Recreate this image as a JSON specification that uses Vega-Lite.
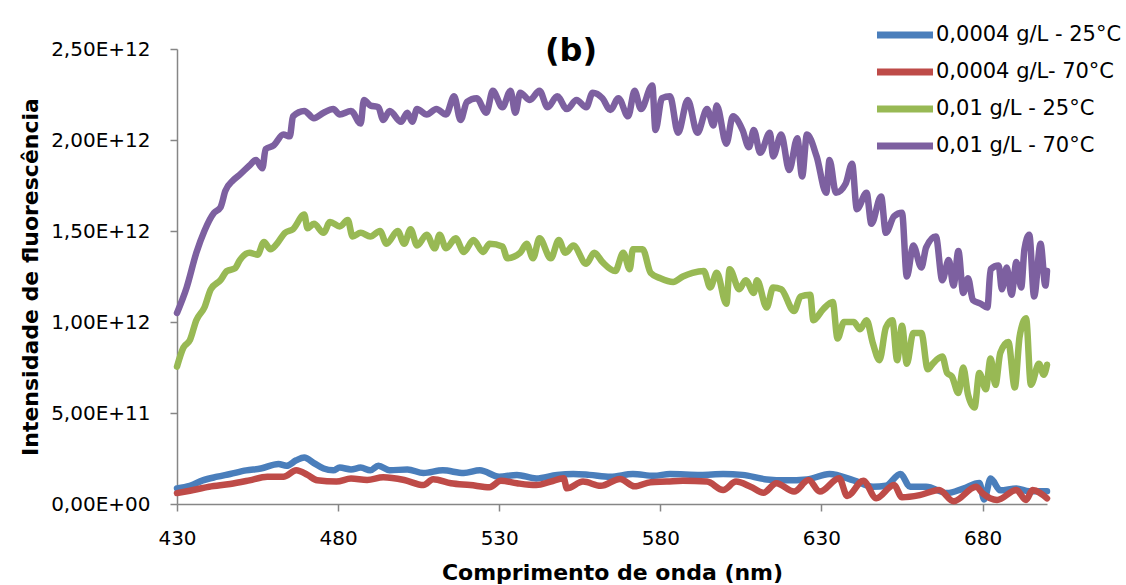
{
  "$schema": "https://vega.github.io/schema/vega-lite/v6.json",
  "width": 870,
  "height": 455,
  "autosize": {"type": "none"},
  "padding": {"left": 177, "top": 49, "right": 79, "bottom": 81},
  "background": "white",
  "config": {"view": {"stroke": null}},
  "title": {"text": "(b)", "font": "DejaVu Sans", "fontSize": 32, "fontWeight": "bold", "color": "black", "anchor": "middle", "frame": "group", "dx": -41, "dy": 60, "offset": -13, "baseline": "alphabetic"},
  "data": {"values": [
    {"w":430,"v":0.086e12,"s":"0,0004 g/L - 25°C"},
    {"w":434,"v":0.10e12,"s":"0,0004 g/L - 25°C"},
    {"w":438,"v":0.13e12,"s":"0,0004 g/L - 25°C"},
    {"w":442.5,"v":0.15e12,"s":"0,0004 g/L - 25°C"},
    {"w":446.5,"v":0.165e12,"s":"0,0004 g/L - 25°C"},
    {"w":451.5,"v":0.185e12,"s":"0,0004 g/L - 25°C"},
    {"w":456,"v":0.195e12,"s":"0,0004 g/L - 25°C"},
    {"w":461.5,"v":0.22e12,"s":"0,0004 g/L - 25°C"},
    {"w":464,"v":0.21e12,"s":"0,0004 g/L - 25°C"},
    {"w":467,"v":0.24e12,"s":"0,0004 g/L - 25°C"},
    {"w":469.5,"v":0.255e12,"s":"0,0004 g/L - 25°C"},
    {"w":472.5,"v":0.225e12,"s":"0,0004 g/L - 25°C"},
    {"w":475.5,"v":0.195e12,"s":"0,0004 g/L - 25°C"},
    {"w":478.5,"v":0.185e12,"s":"0,0004 g/L - 25°C"},
    {"w":480.5,"v":0.20e12,"s":"0,0004 g/L - 25°C"},
    {"w":484,"v":0.19e12,"s":"0,0004 g/L - 25°C"},
    {"w":487,"v":0.20e12,"s":"0,0004 g/L - 25°C"},
    {"w":490,"v":0.185e12,"s":"0,0004 g/L - 25°C"},
    {"w":492.5,"v":0.21e12,"s":"0,0004 g/L - 25°C"},
    {"w":496,"v":0.185e12,"s":"0,0004 g/L - 25°C"},
    {"w":501.5,"v":0.19e12,"s":"0,0004 g/L - 25°C"},
    {"w":506.5,"v":0.17e12,"s":"0,0004 g/L - 25°C"},
    {"w":512.5,"v":0.185e12,"s":"0,0004 g/L - 25°C"},
    {"w":519,"v":0.17e12,"s":"0,0004 g/L - 25°C"},
    {"w":524,"v":0.185e12,"s":"0,0004 g/L - 25°C"},
    {"w":530,"v":0.15e12,"s":"0,0004 g/L - 25°C"},
    {"w":535.5,"v":0.16e12,"s":"0,0004 g/L - 25°C"},
    {"w":541.5,"v":0.14e12,"s":"0,0004 g/L - 25°C"},
    {"w":548,"v":0.16e12,"s":"0,0004 g/L - 25°C"},
    {"w":553,"v":0.165e12,"s":"0,0004 g/L - 25°C"},
    {"w":558,"v":0.16e12,"s":"0,0004 g/L - 25°C"},
    {"w":564.5,"v":0.15e12,"s":"0,0004 g/L - 25°C"},
    {"w":571.5,"v":0.165e12,"s":"0,0004 g/L - 25°C"},
    {"w":578,"v":0.155e12,"s":"0,0004 g/L - 25°C"},
    {"w":583,"v":0.165e12,"s":"0,0004 g/L - 25°C"},
    {"w":592.5,"v":0.16e12,"s":"0,0004 g/L - 25°C"},
    {"w":599.5,"v":0.165e12,"s":"0,0004 g/L - 25°C"},
    {"w":605.5,"v":0.16e12,"s":"0,0004 g/L - 25°C"},
    {"w":613,"v":0.135e12,"s":"0,0004 g/L - 25°C"},
    {"w":619,"v":0.13e12,"s":"0,0004 g/L - 25°C"},
    {"w":625.5,"v":0.135e12,"s":"0,0004 g/L - 25°C"},
    {"w":632.5,"v":0.165e12,"s":"0,0004 g/L - 25°C"},
    {"w":640,"v":0.13e12,"s":"0,0004 g/L - 25°C"},
    {"w":646,"v":0.095e12,"s":"0,0004 g/L - 25°C"},
    {"w":650,"v":0.10e12,"s":"0,0004 g/L - 25°C"},
    {"w":654.5,"v":0.165e12,"s":"0,0004 g/L - 25°C"},
    {"w":657.5,"v":0.095e12,"s":"0,0004 g/L - 25°C"},
    {"w":662.5,"v":0.095e12,"s":"0,0004 g/L - 25°C"},
    {"w":669,"v":0.06e12,"s":"0,0004 g/L - 25°C"},
    {"w":674,"v":0.085e12,"s":"0,0004 g/L - 25°C"},
    {"w":679,"v":0.115e12,"s":"0,0004 g/L - 25°C"},
    {"w":680.5,"v":0.025e12,"s":"0,0004 g/L - 25°C"},
    {"w":682.5,"v":0.14e12,"s":"0,0004 g/L - 25°C"},
    {"w":685.5,"v":0.075e12,"s":"0,0004 g/L - 25°C"},
    {"w":690.5,"v":0.085e12,"s":"0,0004 g/L - 25°C"},
    {"w":694.5,"v":0.07e12,"s":"0,0004 g/L - 25°C"},
    {"w":700,"v":0.07e12,"s":"0,0004 g/L - 25°C"},

    {"w":430,"v":0.06e12,"s":"0,0004 g/L- 70°C"},
    {"w":434,"v":0.073e12,"s":"0,0004 g/L- 70°C"},
    {"w":440,"v":0.095e12,"s":"0,0004 g/L- 70°C"},
    {"w":446.5,"v":0.11e12,"s":"0,0004 g/L- 70°C"},
    {"w":452.5,"v":0.13e12,"s":"0,0004 g/L- 70°C"},
    {"w":458,"v":0.15e12,"s":"0,0004 g/L- 70°C"},
    {"w":463,"v":0.15e12,"s":"0,0004 g/L- 70°C"},
    {"w":467,"v":0.185e12,"s":"0,0004 g/L- 70°C"},
    {"w":470.5,"v":0.16e12,"s":"0,0004 g/L- 70°C"},
    {"w":473.5,"v":0.13e12,"s":"0,0004 g/L- 70°C"},
    {"w":479.5,"v":0.123e12,"s":"0,0004 g/L- 70°C"},
    {"w":484,"v":0.14e12,"s":"0,0004 g/L- 70°C"},
    {"w":489,"v":0.132e12,"s":"0,0004 g/L- 70°C"},
    {"w":494,"v":0.147e12,"s":"0,0004 g/L- 70°C"},
    {"w":500.5,"v":0.132e12,"s":"0,0004 g/L- 70°C"},
    {"w":506.5,"v":0.104e12,"s":"0,0004 g/L- 70°C"},
    {"w":509.5,"v":0.136e12,"s":"0,0004 g/L- 70°C"},
    {"w":515,"v":0.114e12,"s":"0,0004 g/L- 70°C"},
    {"w":521,"v":0.104e12,"s":"0,0004 g/L- 70°C"},
    {"w":527,"v":0.092e12,"s":"0,0004 g/L- 70°C"},
    {"w":530.5,"v":0.128e12,"s":"0,0004 g/L- 70°C"},
    {"w":535.5,"v":0.114e12,"s":"0,0004 g/L- 70°C"},
    {"w":541.5,"v":0.104e12,"s":"0,0004 g/L- 70°C"},
    {"w":546,"v":0.123e12,"s":"0,0004 g/L- 70°C"},
    {"w":550,"v":0.141e12,"s":"0,0004 g/L- 70°C"},
    {"w":551,"v":0.086e12,"s":"0,0004 g/L- 70°C"},
    {"w":556,"v":0.123e12,"s":"0,0004 g/L- 70°C"},
    {"w":561.5,"v":0.10e12,"s":"0,0004 g/L- 70°C"},
    {"w":567.5,"v":0.138e12,"s":"0,0004 g/L- 70°C"},
    {"w":572,"v":0.097e12,"s":"0,0004 g/L- 70°C"},
    {"w":577,"v":0.12e12,"s":"0,0004 g/L- 70°C"},
    {"w":582,"v":0.123e12,"s":"0,0004 g/L- 70°C"},
    {"w":587,"v":0.128e12,"s":"0,0004 g/L- 70°C"},
    {"w":594.5,"v":0.123e12,"s":"0,0004 g/L- 70°C"},
    {"w":599.5,"v":0.077e12,"s":"0,0004 g/L- 70°C"},
    {"w":603.5,"v":0.123e12,"s":"0,0004 g/L- 70°C"},
    {"w":608,"v":0.095e12,"s":"0,0004 g/L- 70°C"},
    {"w":612,"v":0.062e12,"s":"0,0004 g/L- 70°C"},
    {"w":616,"v":0.114e12,"s":"0,0004 g/L- 70°C"},
    {"w":621.5,"v":0.068e12,"s":"0,0004 g/L- 70°C"},
    {"w":626,"v":0.132e12,"s":"0,0004 g/L- 70°C"},
    {"w":629.5,"v":0.068e12,"s":"0,0004 g/L- 70°C"},
    {"w":635.5,"v":0.141e12,"s":"0,0004 g/L- 70°C"},
    {"w":638,"v":0.044e12,"s":"0,0004 g/L- 70°C"},
    {"w":643,"v":0.128e12,"s":"0,0004 g/L- 70°C"},
    {"w":647,"v":0.031e12,"s":"0,0004 g/L- 70°C"},
    {"w":652.5,"v":0.104e12,"s":"0,0004 g/L- 70°C"},
    {"w":655,"v":0.037e12,"s":"0,0004 g/L- 70°C"},
    {"w":660.5,"v":0.049e12,"s":"0,0004 g/L- 70°C"},
    {"w":666.5,"v":0.077e12,"s":"0,0004 g/L- 70°C"},
    {"w":671,"v":0.015e12,"s":"0,0004 g/L- 70°C"},
    {"w":678,"v":0.095e12,"s":"0,0004 g/L- 70°C"},
    {"w":680,"v":0.059e12,"s":"0,0004 g/L- 70°C"},
    {"w":684.5,"v":0.022e12,"s":"0,0004 g/L- 70°C"},
    {"w":690.5,"v":0.077e12,"s":"0,0004 g/L- 70°C"},
    {"w":693.5,"v":0.022e12,"s":"0,0004 g/L- 70°C"},
    {"w":695.5,"v":0.077e12,"s":"0,0004 g/L- 70°C"},
    {"w":700,"v":0.031e12,"s":"0,0004 g/L- 70°C"},

    {"w":430,"v":0.755e12,"s":"0,01 g/L - 25°C"},
    {"w":432,"v":0.86e12,"s":"0,01 g/L - 25°C"},
    {"w":434,"v":0.90e12,"s":"0,01 g/L - 25°C"},
    {"w":436,"v":1.01e12,"s":"0,01 g/L - 25°C"},
    {"w":438.5,"v":1.08e12,"s":"0,01 g/L - 25°C"},
    {"w":440.5,"v":1.18e12,"s":"0,01 g/L - 25°C"},
    {"w":443.5,"v":1.23e12,"s":"0,01 g/L - 25°C"},
    {"w":445.5,"v":1.28e12,"s":"0,01 g/L - 25°C"},
    {"w":448,"v":1.295e12,"s":"0,01 g/L - 25°C"},
    {"w":449.5,"v":1.34e12,"s":"0,01 g/L - 25°C"},
    {"w":452.5,"v":1.38e12,"s":"0,01 g/L - 25°C"},
    {"w":455,"v":1.37e12,"s":"0,01 g/L - 25°C"},
    {"w":457,"v":1.44e12,"s":"0,01 g/L - 25°C"},
    {"w":459,"v":1.40e12,"s":"0,01 g/L - 25°C"},
    {"w":461,"v":1.43e12,"s":"0,01 g/L - 25°C"},
    {"w":463.5,"v":1.49e12,"s":"0,01 g/L - 25°C"},
    {"w":466,"v":1.51e12,"s":"0,01 g/L - 25°C"},
    {"w":469.5,"v":1.59e12,"s":"0,01 g/L - 25°C"},
    {"w":470.5,"v":1.515e12,"s":"0,01 g/L - 25°C"},
    {"w":472.5,"v":1.54e12,"s":"0,01 g/L - 25°C"},
    {"w":475.5,"v":1.49e12,"s":"0,01 g/L - 25°C"},
    {"w":477.5,"v":1.55e12,"s":"0,01 g/L - 25°C"},
    {"w":480.5,"v":1.525e12,"s":"0,01 g/L - 25°C"},
    {"w":483,"v":1.56e12,"s":"0,01 g/L - 25°C"},
    {"w":484.5,"v":1.47e12,"s":"0,01 g/L - 25°C"},
    {"w":487,"v":1.49e12,"s":"0,01 g/L - 25°C"},
    {"w":490,"v":1.47e12,"s":"0,01 g/L - 25°C"},
    {"w":493,"v":1.50e12,"s":"0,01 g/L - 25°C"},
    {"w":495,"v":1.43e12,"s":"0,01 g/L - 25°C"},
    {"w":498.5,"v":1.50e12,"s":"0,01 g/L - 25°C"},
    {"w":500.5,"v":1.43e12,"s":"0,01 g/L - 25°C"},
    {"w":502.5,"v":1.51e12,"s":"0,01 g/L - 25°C"},
    {"w":504.5,"v":1.42e12,"s":"0,01 g/L - 25°C"},
    {"w":507.5,"v":1.48e12,"s":"0,01 g/L - 25°C"},
    {"w":510,"v":1.405e12,"s":"0,01 g/L - 25°C"},
    {"w":511.5,"v":1.48e12,"s":"0,01 g/L - 25°C"},
    {"w":513.5,"v":1.405e12,"s":"0,01 g/L - 25°C"},
    {"w":516.5,"v":1.46e12,"s":"0,01 g/L - 25°C"},
    {"w":519,"v":1.385e12,"s":"0,01 g/L - 25°C"},
    {"w":522,"v":1.45e12,"s":"0,01 g/L - 25°C"},
    {"w":525,"v":1.385e12,"s":"0,01 g/L - 25°C"},
    {"w":527,"v":1.43e12,"s":"0,01 g/L - 25°C"},
    {"w":531,"v":1.415e12,"s":"0,01 g/L - 25°C"},
    {"w":532.5,"v":1.35e12,"s":"0,01 g/L - 25°C"},
    {"w":536.5,"v":1.38e12,"s":"0,01 g/L - 25°C"},
    {"w":538.5,"v":1.43e12,"s":"0,01 g/L - 25°C"},
    {"w":540.5,"v":1.35e12,"s":"0,01 g/L - 25°C"},
    {"w":542.5,"v":1.46e12,"s":"0,01 g/L - 25°C"},
    {"w":546,"v":1.35e12,"s":"0,01 g/L - 25°C"},
    {"w":548.5,"v":1.45e12,"s":"0,01 g/L - 25°C"},
    {"w":550.5,"v":1.38e12,"s":"0,01 g/L - 25°C"},
    {"w":553,"v":1.42e12,"s":"0,01 g/L - 25°C"},
    {"w":557,"v":1.32e12,"s":"0,01 g/L - 25°C"},
    {"w":559.5,"v":1.38e12,"s":"0,01 g/L - 25°C"},
    {"w":562,"v":1.33e12,"s":"0,01 g/L - 25°C"},
    {"w":566,"v":1.28e12,"s":"0,01 g/L - 25°C"},
    {"w":568.5,"v":1.38e12,"s":"0,01 g/L - 25°C"},
    {"w":570.5,"v":1.29e12,"s":"0,01 g/L - 25°C"},
    {"w":571.5,"v":1.40e12,"s":"0,01 g/L - 25°C"},
    {"w":574.5,"v":1.40e12,"s":"0,01 g/L - 25°C"},
    {"w":577,"v":1.27e12,"s":"0,01 g/L - 25°C"},
    {"w":580,"v":1.24e12,"s":"0,01 g/L - 25°C"},
    {"w":584,"v":1.22e12,"s":"0,01 g/L - 25°C"},
    {"w":587,"v":1.25e12,"s":"0,01 g/L - 25°C"},
    {"w":590,"v":1.27e12,"s":"0,01 g/L - 25°C"},
    {"w":593.5,"v":1.28e12,"s":"0,01 g/L - 25°C"},
    {"w":595.5,"v":1.19e12,"s":"0,01 g/L - 25°C"},
    {"w":597.5,"v":1.27e12,"s":"0,01 g/L - 25°C"},
    {"w":600.5,"v":1.10e12,"s":"0,01 g/L - 25°C"},
    {"w":601.5,"v":1.29e12,"s":"0,01 g/L - 25°C"},
    {"w":604.5,"v":1.18e12,"s":"0,01 g/L - 25°C"},
    {"w":606.5,"v":1.23e12,"s":"0,01 g/L - 25°C"},
    {"w":609,"v":1.16e12,"s":"0,01 g/L - 25°C"},
    {"w":610,"v":1.23e12,"s":"0,01 g/L - 25°C"},
    {"w":613,"v":1.08e12,"s":"0,01 g/L - 25°C"},
    {"w":615,"v":1.19e12,"s":"0,01 g/L - 25°C"},
    {"w":617.5,"v":1.18e12,"s":"0,01 g/L - 25°C"},
    {"w":621.5,"v":1.06e12,"s":"0,01 g/L - 25°C"},
    {"w":623.5,"v":1.14e12,"s":"0,01 g/L - 25°C"},
    {"w":626.5,"v":1.15e12,"s":"0,01 g/L - 25°C"},
    {"w":627.5,"v":1.01e12,"s":"0,01 g/L - 25°C"},
    {"w":630.5,"v":1.07e12,"s":"0,01 g/L - 25°C"},
    {"w":633.5,"v":1.11e12,"s":"0,01 g/L - 25°C"},
    {"w":635,"v":0.91e12,"s":"0,01 g/L - 25°C"},
    {"w":637,"v":1.00e12,"s":"0,01 g/L - 25°C"},
    {"w":640,"v":1.00e12,"s":"0,01 g/L - 25°C"},
    {"w":642,"v":0.96e12,"s":"0,01 g/L - 25°C"},
    {"w":644,"v":1.01e12,"s":"0,01 g/L - 25°C"},
    {"w":646,"v":0.88e12,"s":"0,01 g/L - 25°C"},
    {"w":648,"v":0.79e12,"s":"0,01 g/L - 25°C"},
    {"w":650,"v":0.97e12,"s":"0,01 g/L - 25°C"},
    {"w":652,"v":1.01e12,"s":"0,01 g/L - 25°C"},
    {"w":653.5,"v":0.79e12,"s":"0,01 g/L - 25°C"},
    {"w":655,"v":0.98e12,"s":"0,01 g/L - 25°C"},
    {"w":656.5,"v":0.77e12,"s":"0,01 g/L - 25°C"},
    {"w":658.5,"v":0.94e12,"s":"0,01 g/L - 25°C"},
    {"w":661,"v":0.94e12,"s":"0,01 g/L - 25°C"},
    {"w":663,"v":0.74e12,"s":"0,01 g/L - 25°C"},
    {"w":664.5,"v":0.77e12,"s":"0,01 g/L - 25°C"},
    {"w":667.5,"v":0.81e12,"s":"0,01 g/L - 25°C"},
    {"w":669,"v":0.72e12,"s":"0,01 g/L - 25°C"},
    {"w":670.5,"v":0.70e12,"s":"0,01 g/L - 25°C"},
    {"w":672.5,"v":0.61e12,"s":"0,01 g/L - 25°C"},
    {"w":674,"v":0.75e12,"s":"0,01 g/L - 25°C"},
    {"w":675.5,"v":0.60e12,"s":"0,01 g/L - 25°C"},
    {"w":677.5,"v":0.53e12,"s":"0,01 g/L - 25°C"},
    {"w":679,"v":0.72e12,"s":"0,01 g/L - 25°C"},
    {"w":681,"v":0.63e12,"s":"0,01 g/L - 25°C"},
    {"w":682.5,"v":0.80e12,"s":"0,01 g/L - 25°C"},
    {"w":684,"v":0.655e12,"s":"0,01 g/L - 25°C"},
    {"w":685.5,"v":0.83e12,"s":"0,01 g/L - 25°C"},
    {"w":688,"v":0.89e12,"s":"0,01 g/L - 25°C"},
    {"w":690,"v":0.64e12,"s":"0,01 g/L - 25°C"},
    {"w":691.5,"v":0.92e12,"s":"0,01 g/L - 25°C"},
    {"w":693.5,"v":1.02e12,"s":"0,01 g/L - 25°C"},
    {"w":695,"v":0.655e12,"s":"0,01 g/L - 25°C"},
    {"w":697.5,"v":0.77e12,"s":"0,01 g/L - 25°C"},
    {"w":699,"v":0.71e12,"s":"0,01 g/L - 25°C"},
    {"w":700,"v":0.765e12,"s":"0,01 g/L - 25°C"},

    {"w":430,"v":1.05e12,"s":"0,01 g/L - 70°C"},
    {"w":433,"v":1.19e12,"s":"0,01 g/L - 70°C"},
    {"w":436,"v":1.38e12,"s":"0,01 g/L - 70°C"},
    {"w":438.5,"v":1.50e12,"s":"0,01 g/L - 70°C"},
    {"w":441.5,"v":1.60e12,"s":"0,01 g/L - 70°C"},
    {"w":443.5,"v":1.63e12,"s":"0,01 g/L - 70°C"},
    {"w":445,"v":1.72e12,"s":"0,01 g/L - 70°C"},
    {"w":447.5,"v":1.78e12,"s":"0,01 g/L - 70°C"},
    {"w":449.5,"v":1.81e12,"s":"0,01 g/L - 70°C"},
    {"w":452.5,"v":1.86e12,"s":"0,01 g/L - 70°C"},
    {"w":454.5,"v":1.89e12,"s":"0,01 g/L - 70°C"},
    {"w":456.5,"v":1.845e12,"s":"0,01 g/L - 70°C"},
    {"w":457.5,"v":1.95e12,"s":"0,01 g/L - 70°C"},
    {"w":460,"v":1.97e12,"s":"0,01 g/L - 70°C"},
    {"w":463,"v":2.03e12,"s":"0,01 g/L - 70°C"},
    {"w":465,"v":2.02e12,"s":"0,01 g/L - 70°C"},
    {"w":466,"v":2.13e12,"s":"0,01 g/L - 70°C"},
    {"w":469.5,"v":2.16e12,"s":"0,01 g/L - 70°C"},
    {"w":472.5,"v":2.12e12,"s":"0,01 g/L - 70°C"},
    {"w":475.5,"v":2.15e12,"s":"0,01 g/L - 70°C"},
    {"w":478.5,"v":2.17e12,"s":"0,01 g/L - 70°C"},
    {"w":480.5,"v":2.14e12,"s":"0,01 g/L - 70°C"},
    {"w":484,"v":2.16e12,"s":"0,01 g/L - 70°C"},
    {"w":487,"v":2.09e12,"s":"0,01 g/L - 70°C"},
    {"w":488,"v":2.22e12,"s":"0,01 g/L - 70°C"},
    {"w":490,"v":2.19e12,"s":"0,01 g/L - 70°C"},
    {"w":492.5,"v":2.18e12,"s":"0,01 g/L - 70°C"},
    {"w":494,"v":2.11e12,"s":"0,01 g/L - 70°C"},
    {"w":496,"v":2.16e12,"s":"0,01 g/L - 70°C"},
    {"w":499.5,"v":2.10e12,"s":"0,01 g/L - 70°C"},
    {"w":501.5,"v":2.15e12,"s":"0,01 g/L - 70°C"},
    {"w":503,"v":2.10e12,"s":"0,01 g/L - 70°C"},
    {"w":504.5,"v":2.17e12,"s":"0,01 g/L - 70°C"},
    {"w":507.5,"v":2.14e12,"s":"0,01 g/L - 70°C"},
    {"w":510.5,"v":2.17e12,"s":"0,01 g/L - 70°C"},
    {"w":513.5,"v":2.14e12,"s":"0,01 g/L - 70°C"},
    {"w":516,"v":2.24e12,"s":"0,01 g/L - 70°C"},
    {"w":518,"v":2.11e12,"s":"0,01 g/L - 70°C"},
    {"w":520,"v":2.21e12,"s":"0,01 g/L - 70°C"},
    {"w":523,"v":2.23e12,"s":"0,01 g/L - 70°C"},
    {"w":526,"v":2.15e12,"s":"0,01 g/L - 70°C"},
    {"w":528,"v":2.27e12,"s":"0,01 g/L - 70°C"},
    {"w":531,"v":2.18e12,"s":"0,01 g/L - 70°C"},
    {"w":533.5,"v":2.27e12,"s":"0,01 g/L - 70°C"},
    {"w":535,"v":2.15e12,"s":"0,01 g/L - 70°C"},
    {"w":536.5,"v":2.26e12,"s":"0,01 g/L - 70°C"},
    {"w":539.5,"v":2.22e12,"s":"0,01 g/L - 70°C"},
    {"w":542.5,"v":2.27e12,"s":"0,01 g/L - 70°C"},
    {"w":545,"v":2.18e12,"s":"0,01 g/L - 70°C"},
    {"w":548,"v":2.24e12,"s":"0,01 g/L - 70°C"},
    {"w":551,"v":2.17e12,"s":"0,01 g/L - 70°C"},
    {"w":554,"v":2.22e12,"s":"0,01 g/L - 70°C"},
    {"w":557,"v":2.18e12,"s":"0,01 g/L - 70°C"},
    {"w":559,"v":2.26e12,"s":"0,01 g/L - 70°C"},
    {"w":562,"v":2.23e12,"s":"0,01 g/L - 70°C"},
    {"w":564.5,"v":2.165e12,"s":"0,01 g/L - 70°C"},
    {"w":567,"v":2.23e12,"s":"0,01 g/L - 70°C"},
    {"w":570,"v":2.13e12,"s":"0,01 g/L - 70°C"},
    {"w":572,"v":2.27e12,"s":"0,01 g/L - 70°C"},
    {"w":574,"v":2.17e12,"s":"0,01 g/L - 70°C"},
    {"w":577.5,"v":2.30e12,"s":"0,01 g/L - 70°C"},
    {"w":578.5,"v":2.055e12,"s":"0,01 g/L - 70°C"},
    {"w":580.5,"v":2.23e12,"s":"0,01 g/L - 70°C"},
    {"w":583,"v":2.24e12,"s":"0,01 g/L - 70°C"},
    {"w":585.5,"v":2.04e12,"s":"0,01 g/L - 70°C"},
    {"w":588.5,"v":2.22e12,"s":"0,01 g/L - 70°C"},
    {"w":591.5,"v":2.04e12,"s":"0,01 g/L - 70°C"},
    {"w":594.5,"v":2.17e12,"s":"0,01 g/L - 70°C"},
    {"w":596.5,"v":2.08e12,"s":"0,01 g/L - 70°C"},
    {"w":597.5,"v":2.19e12,"s":"0,01 g/L - 70°C"},
    {"w":600.5,"v":1.98e12,"s":"0,01 g/L - 70°C"},
    {"w":602.5,"v":2.13e12,"s":"0,01 g/L - 70°C"},
    {"w":605.5,"v":2.055e12,"s":"0,01 g/L - 70°C"},
    {"w":607.5,"v":1.96e12,"s":"0,01 g/L - 70°C"},
    {"w":609,"v":2.055e12,"s":"0,01 g/L - 70°C"},
    {"w":611,"v":1.93e12,"s":"0,01 g/L - 70°C"},
    {"w":614,"v":2.04e12,"s":"0,01 g/L - 70°C"},
    {"w":615,"v":1.91e12,"s":"0,01 g/L - 70°C"},
    {"w":617.5,"v":2.03e12,"s":"0,01 g/L - 70°C"},
    {"w":620,"v":1.835e12,"s":"0,01 g/L - 70°C"},
    {"w":622.5,"v":2.01e12,"s":"0,01 g/L - 70°C"},
    {"w":624,"v":1.80e12,"s":"0,01 g/L - 70°C"},
    {"w":625.5,"v":2.03e12,"s":"0,01 g/L - 70°C"},
    {"w":628.5,"v":1.91e12,"s":"0,01 g/L - 70°C"},
    {"w":631.5,"v":1.71e12,"s":"0,01 g/L - 70°C"},
    {"w":632.5,"v":1.89e12,"s":"0,01 g/L - 70°C"},
    {"w":634.5,"v":1.71e12,"s":"0,01 g/L - 70°C"},
    {"w":637.5,"v":1.76e12,"s":"0,01 g/L - 70°C"},
    {"w":639.5,"v":1.87e12,"s":"0,01 g/L - 70°C"},
    {"w":641,"v":1.62e12,"s":"0,01 g/L - 70°C"},
    {"w":644,"v":1.71e12,"s":"0,01 g/L - 70°C"},
    {"w":645.5,"v":1.54e12,"s":"0,01 g/L - 70°C"},
    {"w":648.5,"v":1.69e12,"s":"0,01 g/L - 70°C"},
    {"w":650,"v":1.49e12,"s":"0,01 g/L - 70°C"},
    {"w":652.5,"v":1.58e12,"s":"0,01 g/L - 70°C"},
    {"w":655,"v":1.60e12,"s":"0,01 g/L - 70°C"},
    {"w":656.5,"v":1.25e12,"s":"0,01 g/L - 70°C"},
    {"w":658.5,"v":1.42e12,"s":"0,01 g/L - 70°C"},
    {"w":661,"v":1.30e12,"s":"0,01 g/L - 70°C"},
    {"w":662.5,"v":1.41e12,"s":"0,01 g/L - 70°C"},
    {"w":665.5,"v":1.47e12,"s":"0,01 g/L - 70°C"},
    {"w":667.5,"v":1.23e12,"s":"0,01 g/L - 70°C"},
    {"w":669.5,"v":1.34e12,"s":"0,01 g/L - 70°C"},
    {"w":671,"v":1.20e12,"s":"0,01 g/L - 70°C"},
    {"w":672.5,"v":1.39e12,"s":"0,01 g/L - 70°C"},
    {"w":674,"v":1.16e12,"s":"0,01 g/L - 70°C"},
    {"w":675.5,"v":1.24e12,"s":"0,01 g/L - 70°C"},
    {"w":677,"v":1.12e12,"s":"0,01 g/L - 70°C"},
    {"w":679.5,"v":1.10e12,"s":"0,01 g/L - 70°C"},
    {"w":681.5,"v":1.08e12,"s":"0,01 g/L - 70°C"},
    {"w":682.5,"v":1.29e12,"s":"0,01 g/L - 70°C"},
    {"w":685,"v":1.31e12,"s":"0,01 g/L - 70°C"},
    {"w":686,"v":1.18e12,"s":"0,01 g/L - 70°C"},
    {"w":687.5,"v":1.30e12,"s":"0,01 g/L - 70°C"},
    {"w":689,"v":1.15e12,"s":"0,01 g/L - 70°C"},
    {"w":690.5,"v":1.33e12,"s":"0,01 g/L - 70°C"},
    {"w":692,"v":1.19e12,"s":"0,01 g/L - 70°C"},
    {"w":693,"v":1.40e12,"s":"0,01 g/L - 70°C"},
    {"w":694.5,"v":1.48e12,"s":"0,01 g/L - 70°C"},
    {"w":696,"v":1.14e12,"s":"0,01 g/L - 70°C"},
    {"w":698,"v":1.43e12,"s":"0,01 g/L - 70°C"},
    {"w":699.5,"v":1.20e12,"s":"0,01 g/L - 70°C"},
    {"w":700,"v":1.28e12,"s":"0,01 g/L - 70°C"}
  ]},
  "mark": {"type": "line", "strokeWidth": 6.5, "strokeCap": "round", "strokeJoin": "round", "interpolate": "monotone", "clip": false},
  "encoding": {
    "x": {
      "field": "w", "type": "quantitative",
      "scale": {"domain": [430, 700], "nice": false, "zero": false},
      "axis": {
        "title": "Comprimento de onda (nm)",
        "values": [430, 480, 530, 580, 630, 680],
        "grid": false,
        "domainColor": "#868686", "domainWidth": 1.5,
        "tickColor": "#868686", "tickWidth": 1.5, "tickSize": 7,
        "labelFont": "DejaVu Sans", "labelFontSize": 20, "labelColor": "black", "labelPadding": 17,
        "labelFlush": false, "labelOverlap": false,
        "titleFont": "DejaVu Sans", "titleFontSize": 22, "titleFontWeight": "bold", "titleColor": "black",
        "titleBaseline": "alphabetic", "titleY": 75
      }
    },
    "y": {
      "field": "v", "type": "quantitative",
      "scale": {"domain": [0, 2.5e12], "nice": false},
      "axis": {
        "title": "Intensidade de fluorescência",
        "values": [0, 5e11, 1e12, 1.5e12, 2e12, 2.5e12],
        "grid": false,
        "labelExpr": "datum.value == 0 ? '0,00E+00' : replace(replace(format(datum.value, '.2e'), '.', ','), 'e', 'E')",
        "domainColor": "#868686", "domainWidth": 1.5,
        "tickColor": "#868686", "tickWidth": 1.5, "tickSize": 7,
        "labelFont": "DejaVu Sans", "labelFontSize": 20, "labelColor": "black", "labelPadding": 20,
        "labelFlush": false, "labelOverlap": false,
        "titleFont": "DejaVu Sans", "titleFontSize": 22, "titleFontWeight": "bold", "titleColor": "black",
        "titleBaseline": "alphabetic", "titleX": -140, "titleY": 227.5, "titleAngle": -90, "titleAlign": "center"
      }
    },
    "color": {
      "field": "s", "type": "nominal",
      "scale": {
        "domain": ["0,0004 g/L - 25°C", "0,0004 g/L- 70°C", "0,01 g/L - 25°C", "0,01 g/L - 70°C"],
        "range": ["#4A7EBB", "#BE4B48", "#98B954", "#7D60A0"]
      },
      "legend": {
        "title": null,
        "orient": "none", "legendX": 713, "legendY": -29,
        "symbolType": "M-2.5,0H2.5", "symbolSize": 502, "symbolStrokeWidth": 7,
        "labelFont": "DejaVu Sans", "labelFontSize": 21, "labelColor": "black", "labelOffset": 16,
        "rowPadding": 8, "labelLimit": 400
      }
    }
  }
}
